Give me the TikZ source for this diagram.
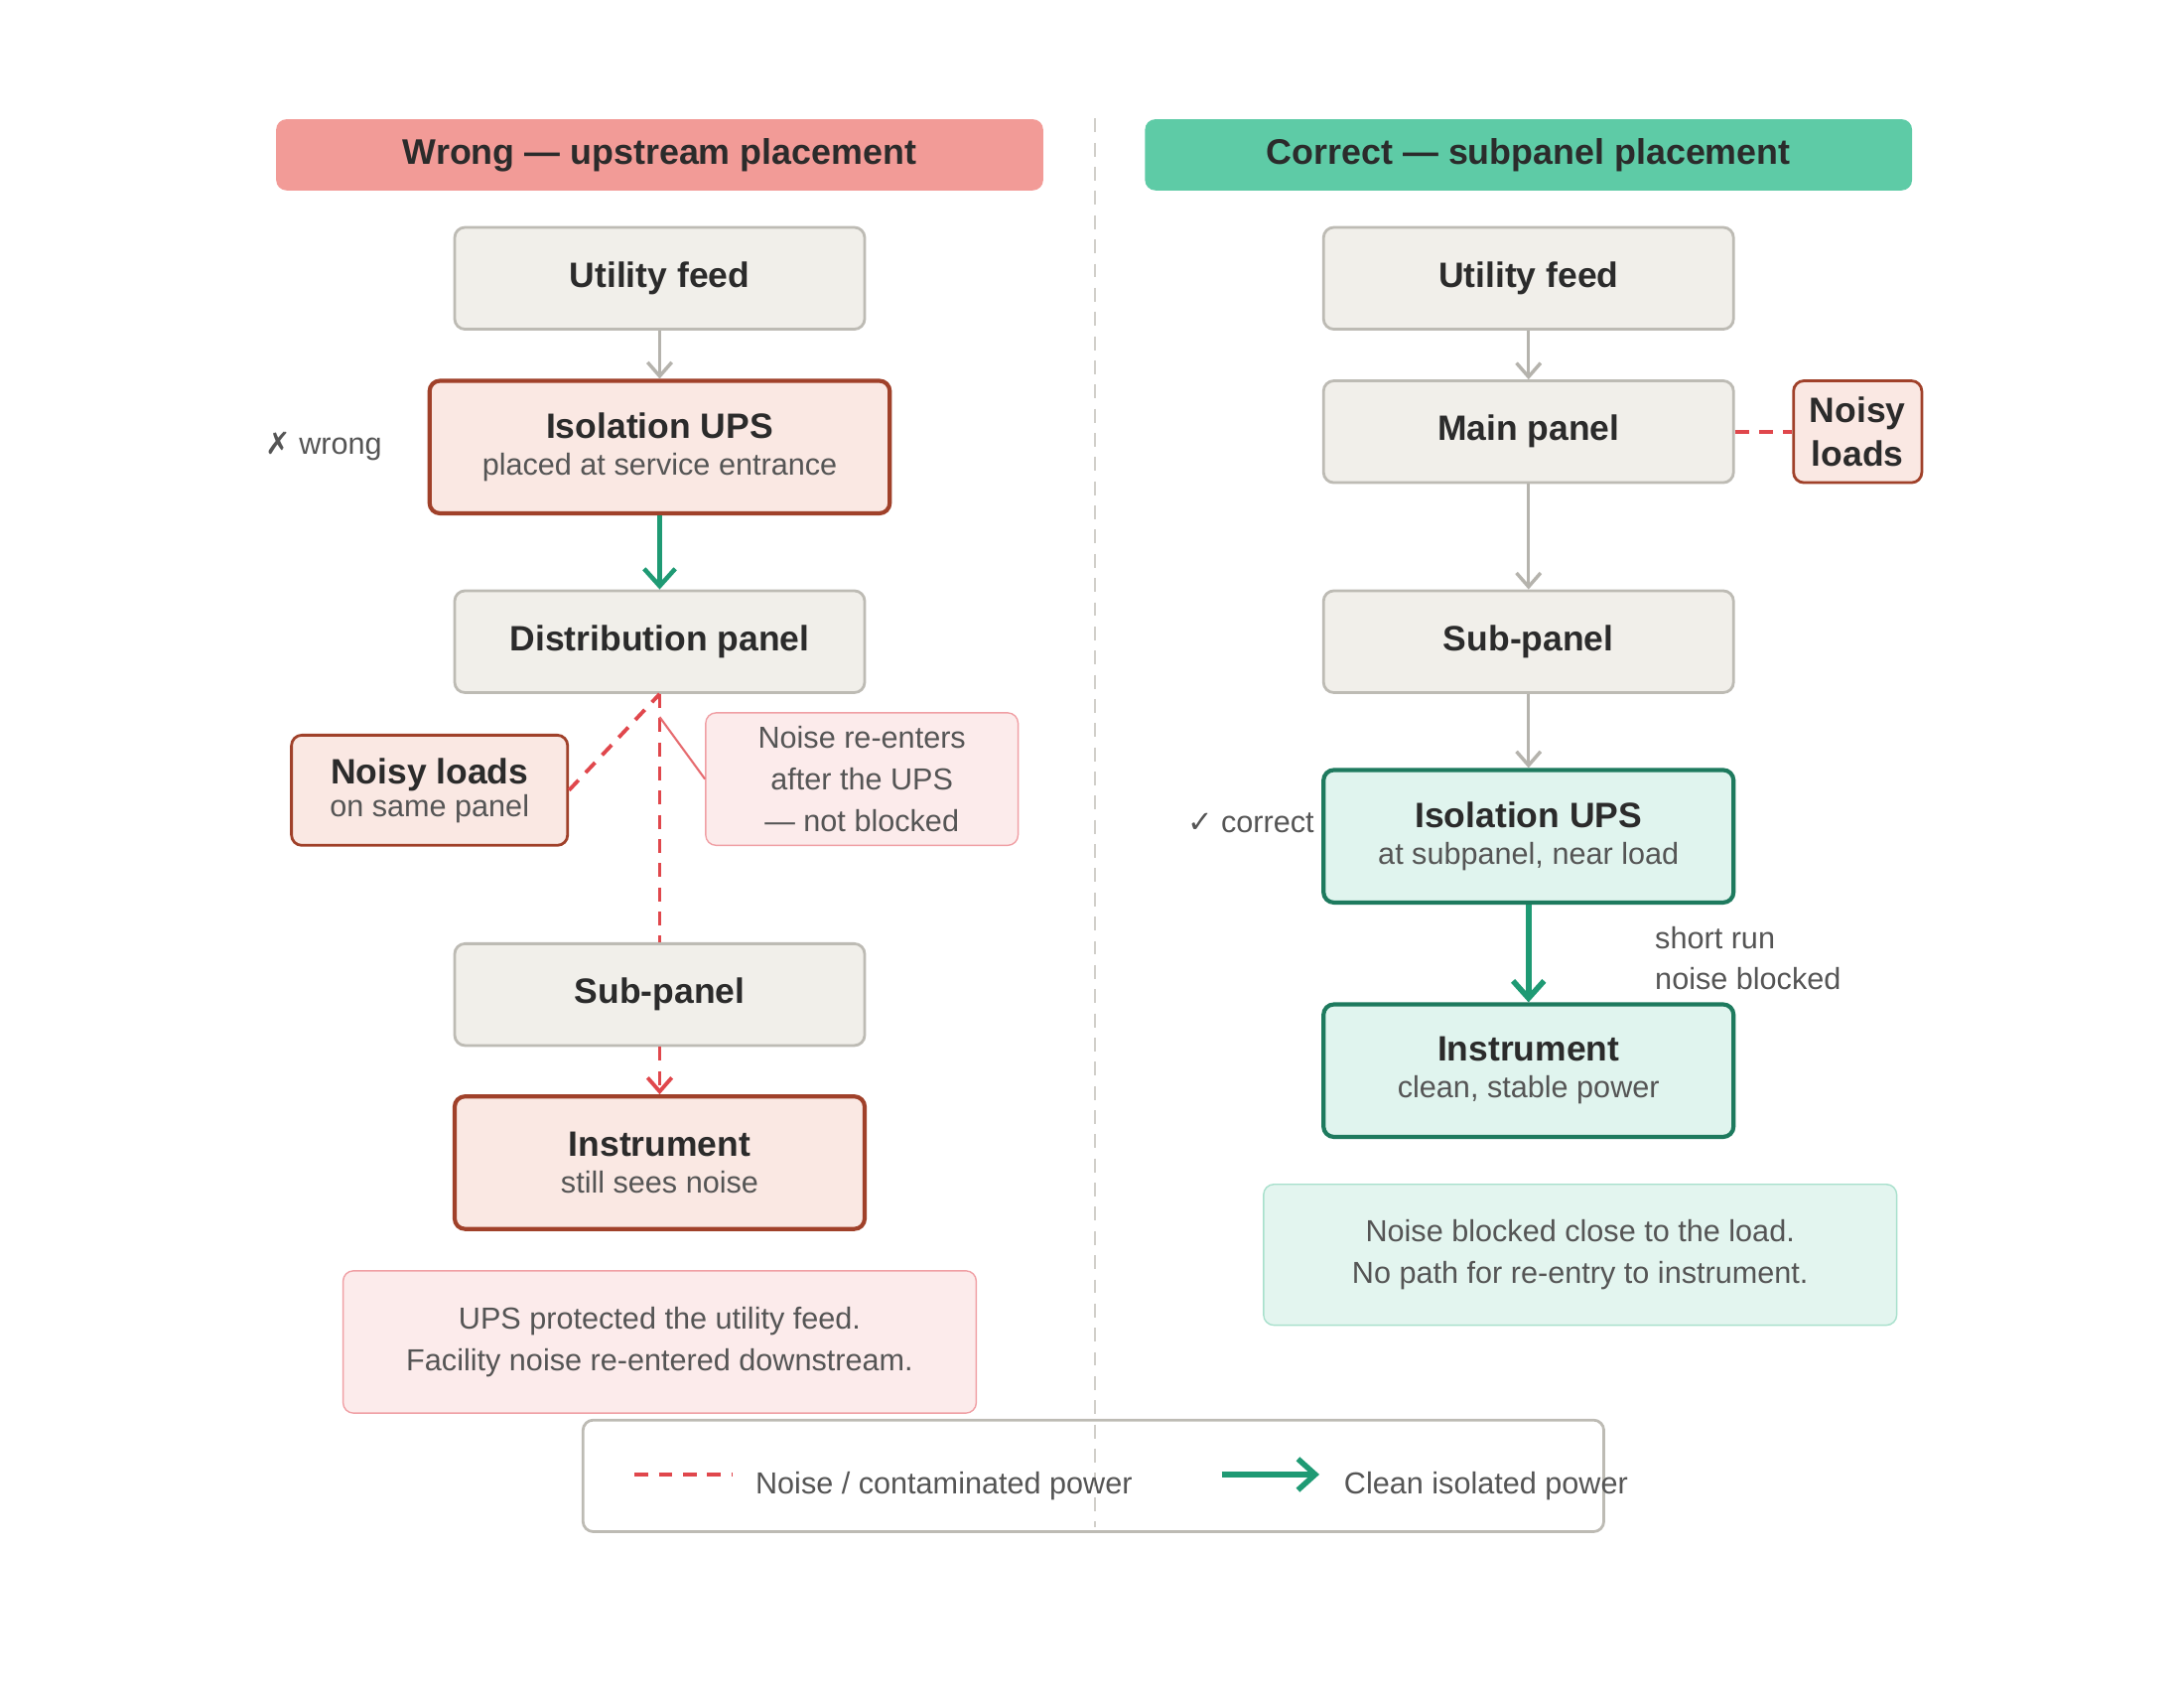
\documentclass[tikz,border=0pt]{standalone}
\usepackage{fontspec}
\setmainfont{Liberation Sans}
\newfontfamily\symf{DejaVu Sans}
\usetikzlibrary{arrows.meta}
\definecolor{grayfill}{HTML}{F1EFEA}
\definecolor{graydraw}{HTML}{BDBBB4}
\definecolor{redfill}{HTML}{FAE8E3}
\definecolor{reddraw}{HTML}{A0412A}
\definecolor{notefill}{HTML}{FCEBEB}
\definecolor{notedraw}{HTML}{F0A0A5}
\definecolor{grnfill}{HTML}{E0F4EE}
\definecolor{grndraw}{HTML}{1E7A5E}
\definecolor{gnotefill}{HTML}{E3F5EF}
\definecolor{gnotedraw}{HTML}{A8E0CC}
\definecolor{hdrred}{HTML}{F29B97}
\definecolor{hdrgrn}{HTML}{5ECBA6}
\definecolor{txt}{HTML}{2B2B2B}
\definecolor{sub}{HTML}{555555}
\definecolor{noise}{HTML}{E0474C}
\definecolor{clean}{HTML}{1F9A74}
\definecolor{arr}{HTML}{B5B3AD}
\newlength{\pxu}\setlength{\pxu}{0.01419cm}
\newcommand{\subt}[1]{{\mdseries\fontsize{8.8}{10}\selectfont\color{sub}#1}}
\tikzset{
 box/.style={rounded corners=3pt, minimum width=294\pxu, minimum height=73\pxu, align=center, text=txt, font=\fontsize{10.2}{11.5}\selectfont\bfseries},
 gbox/.style={box, fill=grayfill, draw=graydraw, line width=0.8pt},
 rbox/.style={box, fill=redfill, draw=reddraw, line width=1.2pt},
 tbox/.style={box, fill=grnfill, draw=grndraw, line width=1.2pt},
 note/.style={rounded corners=3pt, align=center, text=sub, font=\fontsize{8.8}{12}\selectfont},
 hdr/.style={rounded corners=3pt, minimum width=550\pxu, minimum height=51\pxu, font=\fontsize{10.3}{11}\selectfont\bfseries, text=txt},
 garr/.style={draw=arr, line width=1pt, -{Straight Barb[length=4pt,width=7pt]}},
 carr/.style={draw=clean, line width=1.6pt, -{Straight Barb[length=5pt,width=9pt]}},
 narr/.style={draw=noise, line width=1.1pt, dash pattern=on 4pt off 3pt},
 lbl/.style={text=sub, font=\fontsize{8.8}{12}\selectfont},
}
\begin{document}
\begin{tikzpicture}[x=0.01419cm, y=-0.01419cm]
\useasboundingbox (0,0) rectangle (1566,1212);
\draw[graydraw!70, dash pattern=on 4pt off 3pt, line width=0.6pt] (785,85) -- (785,1095);
% headers
\node[hdr, fill=hdrred] (hl) at (473,111) {Wrong — upstream placement};
\node[hdr, fill=hdrgrn] (hr) at (1096,111) {Correct — subpanel placement};
% left column
\node[gbox] (luf) at (473,199.5) {Utility feed};
\node[rbox, minimum width=330\pxu, minimum height=95\pxu] (lups) at (473,320.5) {Isolation UPS\\[-1pt]\subt{placed at service entrance}};
\node[gbox] (ldp) at (473,460) {Distribution panel};
\node[rbox, line width=0.8pt, minimum width=198\pxu, minimum height=79\pxu] (lnl) at (308,566.5) {Noisy loads\\[-2pt]\subt{on same panel}};
\node[note, fill=notefill, draw=notedraw, minimum width=224\pxu, minimum height=95\pxu] (lnote) at (618,558.5) {Noise re-enters\\after the UPS\\— not blocked};
\node[gbox] (lsp) at (473,713) {Sub-panel};
\node[rbox, minimum height=95\pxu] (lins) at (473,833.5) {Instrument\\[-1pt]\subt{still sees noise}};
\node[note, fill=notefill, draw=notedraw, minimum width=454\pxu, minimum height=102\pxu] (lbn) at (473,962) {UPS protected the utility feed.\\Facility noise re-entered downstream.};
\node[lbl] (lw) at (232,320) {{\symf ✗} wrong};
\draw[garr] (luf) -- (lups);
\draw[carr, line width=1.3pt] (lups) -- (ldp);
\draw[narr] (ldp.south) -- (lsp.north);
\draw[narr, -{Straight Barb[length=4pt,width=7pt]}] (lsp) -- (lins);
\draw[narr] (lnl.east) -- (ldp.south);
\coordinate (lk) at (473,514);
\draw[noise!80, line width=0.6pt] (lk) -- (lnote.west);
% right column
\node[gbox] (ruf) at (1096,199.5) {Utility feed};
\node[gbox] (rmp) at (1096,309.5) {Main panel};
\node[rbox, line width=0.8pt, minimum width=92\pxu, minimum height=73\pxu] (rnl) at (1332,309.5) {Noisy\\[1pt]loads};
\node[gbox] (rsp) at (1096,460) {Sub-panel};
\node[tbox, minimum height=95\pxu] (rups) at (1096,599.5) {Isolation UPS\\[-1pt]\subt{at subpanel, near load}};
\node[tbox, minimum height=95\pxu] (rins) at (1096,767.5) {Instrument\\[-1pt]\subt{clean, stable power}};
\node[note, fill=gnotefill, draw=gnotedraw, minimum width=454\pxu, minimum height=101\pxu] (rbn) at (1133,899.5) {Noise blocked close to the load.\\No path for re-entry to instrument.};
\node[lbl, anchor=east] (rc) at (951,590) {{\symf ✓} correct};
\node[lbl, anchor=west, align=left] (rsr) at (1178,687) {short run\\noise blocked};
\draw[garr] (ruf) -- (rmp);
\draw[garr] (rmp) -- (rsp);
\draw[garr] (rsp) -- (rups);
\draw[carr] (rups) -- (rins);
\draw[narr] (rmp) -- (rnl);
% legend
\node[draw=graydraw, line width=0.8pt, rounded corners=3pt, minimum width=732\pxu, minimum height=80\pxu] (leg) at (784,1058) {};
\coordinate (la) at (455,1057); \coordinate (lb) at (525,1057);
\draw[narr] (la) -- (lb);
\node[lbl, anchor=west] (lt1) at (533,1065) {Noise / contaminated power};
\coordinate (lc) at (876,1057); \coordinate (ld) at (946,1057);
\draw[carr] (lc) -- (ld);
\node[lbl, anchor=west] (lt2) at (955,1065) {Clean isolated power};
\end{tikzpicture}
\end{document}
